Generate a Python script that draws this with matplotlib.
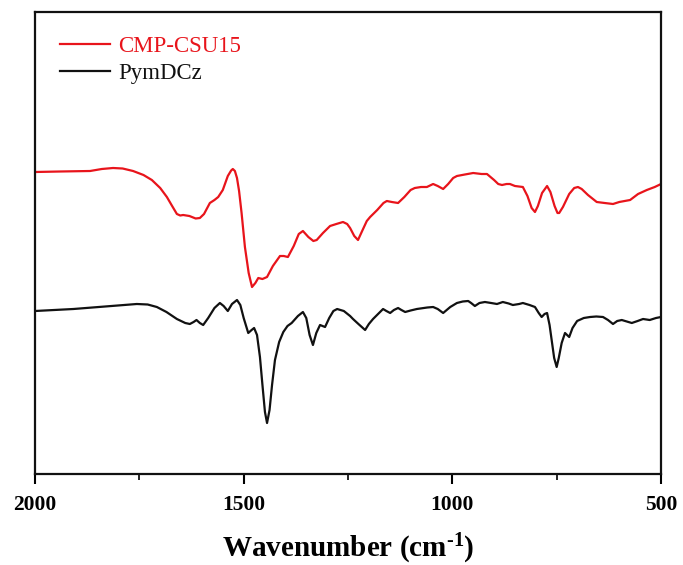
import matplotlib
matplotlib.use("Agg")
import matplotlib.pyplot as plt
from matplotlib.ticker import MultipleLocator

# ---- data (wavenumber in cm^-1, intensity in arbitrary units) ----
red_wn = [2000, 1940, 1868, 1840, 1813, 1790, 1765, 1740, 1720, 1700, 1684, 1670, 1660, 1652,
          1645, 1630, 1615, 1605, 1595, 1581, 1570, 1561, 1550, 1538, 1530, 1526, 1521, 1516, 1511, 1505,
          1497, 1488, 1480, 1472, 1465, 1455, 1444, 1430, 1413, 1404, 1394, 1380, 1368, 1358,
          1345, 1333, 1325, 1310, 1293, 1278, 1262, 1252, 1245, 1235, 1226, 1215, 1205, 1197,
          1180, 1165, 1157, 1145, 1130, 1115, 1100, 1090, 1075, 1061, 1046, 1035, 1022, 1010,
          998, 989, 970, 950, 930, 917, 900, 890, 881, 870, 862, 850, 831, 820, 810, 802, 795,
          785, 773, 765, 755, 748, 744, 735, 720, 708, 699, 690, 675, 660, 654, 635, 615, 600,
          574, 555, 534, 515, 500]
red_val = [306, 306.5, 307, 309, 310, 309.5, 307, 303, 298, 290, 281, 271, 264, 262.5,
           263, 262, 259.5, 260, 264, 275, 278, 281, 288, 302, 307.5, 309, 307, 300, 287, 265,
           231, 205, 191, 195, 200, 199, 201, 212, 222, 222, 221, 232, 244, 247,
           241, 237, 238, 245, 252, 254, 256, 254, 250, 242, 238, 248, 257, 261,
           268, 275, 277, 276, 275, 281, 288, 290, 291, 291, 294, 292, 289, 294,
           300, 302, 303.5, 305, 304, 304, 298, 294, 293, 294, 294, 292, 291, 282, 270, 266, 272,
           285, 292, 286, 272, 265, 265, 271, 284, 290, 291, 289, 283, 278, 276, 275, 274, 276,
           278, 284, 288, 291, 294]

black_wn = [2000, 1908, 1756, 1730, 1708, 1685, 1660, 1640, 1629, 1620, 1613, 1605, 1597, 1585,
            1570, 1557, 1548, 1538, 1528, 1516, 1508, 1500, 1489, 1481, 1475, 1468, 1461, 1455,
            1449, 1444, 1438, 1432, 1425, 1415, 1405, 1395, 1385, 1370, 1358, 1350, 1342, 1334,
            1326, 1317, 1305, 1295, 1285, 1276, 1260, 1245, 1238, 1225, 1209, 1200, 1190, 1166,
            1158, 1149, 1140, 1130, 1122, 1113, 1100, 1085, 1060, 1046, 1035, 1022, 1005, 989,
            975, 962, 955, 946, 935, 922, 907, 893, 879, 865, 855, 840, 831, 815, 802, 793, 786,
            779, 773, 767, 762, 756, 750, 745, 738, 730, 725, 720, 712, 701, 685, 670, 655, 639,
            627, 615, 605, 594, 582, 570, 556, 543, 527, 512, 500]
black_val = [167, 169, 174, 173.5, 171, 166, 159, 155, 154, 156, 158, 155, 153, 160,
             170, 175, 172, 167, 174, 178, 173, 160, 145, 148, 150, 143, 121, 93,
             66, 55, 68, 93, 118, 136, 146, 152, 155, 162, 166, 160, 143, 133,
             145, 153, 151, 160, 167, 169, 167, 162, 159, 154, 148, 154, 159, 169,
             167, 165, 168, 170, 168, 166, 167.5, 169, 170.5, 171, 169, 165, 171, 175,
             176.5, 177, 175, 172, 175, 176, 175, 174, 176, 174.5, 173, 174, 175, 173, 171, 165, 161,
             164, 165, 153, 138, 120, 111, 120, 135, 145, 143, 141, 150, 157, 160, 161, 161.5, 161,
             158, 154, 157, 158, 156.5, 155, 157, 159, 158, 160, 161]

series_labels = ["CMP-CSU15", "PymDCz"]
x_ticks = [2000, 1500, 1000, 500]
x_label = r"Wavenumber (cm$^{\text{-1}}$)"

# ---- style ----
plt.rcParams["font.family"] = ["Liberation Serif", "DejaVu Serif"]
plt.rcParams["mathtext.fontset"] = "custom"
plt.rcParams["mathtext.rm"] = "Liberation Serif:bold"
plt.rcParams["mathtext.bf"] = "Liberation Serif:bold"
plt.rcParams["mathtext.it"] = "Liberation Serif:bold"

W, H = 683, 565
fig = plt.figure(figsize=(W / 100, H / 100), dpi=100)
left, right, top, bottom = 35, 661, 12, 474
ax = fig.add_axes([left / W, 1 - bottom / H, (right - left) / W, (bottom - top) / H])

ax.plot(red_wn, red_val, color="#e8141b", lw=1.6, label=series_labels[0])
ax.plot(black_wn, black_val, color="#111111", lw=1.6, label=series_labels[1])

ax.set_xlim(2000, 500)
ax.set_ylim(4, 466)
ax.set_yticks([])
ax.set_xticks(x_ticks)
ax.xaxis.set_minor_locator(MultipleLocator(250))
ax.tick_params(axis="x", which="major", direction="out", length=7, width=1.5,
               labelsize=15.5, pad=8)
ax.tick_params(axis="x", which="minor", direction="out", length=4, width=1.2)
for lab in ax.get_xticklabels():
    lab.set_fontweight("bold")
for s in ax.spines.values():
    s.set_linewidth(1.6)
    s.set_color("#111111")

ax.set_xlabel(x_label, fontsize=21, fontweight="bold", labelpad=12)

leg = ax.legend(loc="upper left", bbox_to_anchor=(0.04, 0.949), frameon=False,
                fontsize=16.5, handlelength=2.2, handletextpad=0.35, labelspacing=0.29,
                borderpad=0, borderaxespad=0, labelcolor="linecolor")

fig.savefig("out.png", dpi=100)
